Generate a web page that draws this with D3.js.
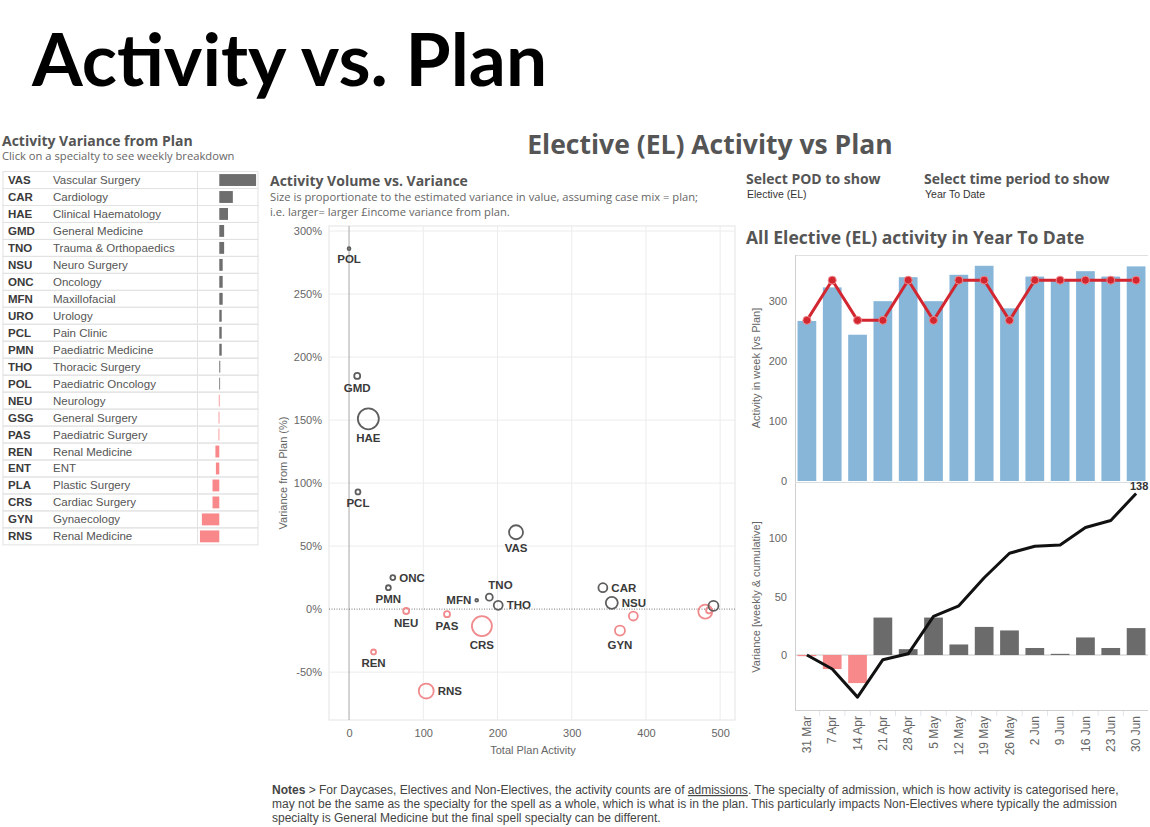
<!DOCTYPE html>
<html><head><meta charset="utf-8">
<script src="https://cdn.jsdelivr.net/npm/d3@7"></script>
<style>body{margin:0;background:#fff;} svg{display:block;}</style>
</head><body><svg id="c" width="1150" height="827"></svg>
<script>
// ---------- DATA ----------
const specCodes = ["VAS","CAR","HAE","GMD","TNO","NSU","ONC","MFN","URO","PCL","PMN","THO","POL","NEU","GSG","PAS","REN","ENT","PLA","CRS","GYN","RNS"];
const specNames = ["Vascular Surgery","Cardiology","Clinical Haematology","General Medicine","Trauma & Orthopaedics","Neuro Surgery","Oncology","Maxillofacial","Urology","Pain Clinic","Paediatric Medicine","Thoracic Surgery","Paediatric Oncology","Neurology","General Surgery","Paediatric Surgery","Renal Medicine","ENT","Plastic Surgery","Cardiac Surgery","Gynaecology","Renal Medicine"];
const specVariance = [38,14,9,5,5,3.5,3.5,3.5,2.5,2.5,2.5,1,0.5,-0.5,-0.7,-0.8,-4,-3.5,-7,-7,-18,-20];

const scatterCodes = ["POL","GMD","HAE","PCL","VAS","ONC","PMN","NEU","REN","RNS","PAS","CRS","MFN","TNO","THO","CAR","NSU","GYN","PLA","GSG","ENT","URO"];
const scatterPlan  = [0,11,26,12,225,59,53,77,33,104,132,179,172,189,201,342,354,365,383,480,485,491];
const scatterVarPct= [286,185,151,93,61,25,17,-1.5,-34,-65,-4,-13.5,7,9.5,3,17,5,-17,-5.5,-2,-1,2.5];
const scatterValue = [2,9,110,6,49,6,6,9,6,56,9,100,2,12,20,20,36,25,20,49,9,25];

const yPctTicks = [-50,0,50,100,150,200,250,300];
const xPlanTicks = [0,100,200,300,400,500];

const weeks = ["31 Mar","7 Apr","14 Apr","21 Apr","28 Apr","5 May","12 May","19 May","26 May","2 Jun","9 Jun","16 Jun","23 Jun","30 Jun"];
const weeklyActivity = [267,323,244,300,340,300,344,359,288,341,336,350,341,358];
const weeklyPlan     = [268,335,268,268,335,268,335,335,268,335,335,335,335,335];
const weeklyVariance = [-1,-12,-24,32,5,32,9,24,21,6,1,15,6,23];
const cumulativeVariance = [0,-12,-36,-4,1,33,42,66,87,93,94,109,115,138];
const activityTicks = [0,100,200,300];
const varianceTicks = [0,50,100];

// ---------- STYLE ----------
const TITLE = "'Lato','Open Sans',sans-serif";
const HEAD = "'Open Sans','Lato',sans-serif";
const BODY = "'Liberation Sans',Arial,sans-serif";
const svg = d3.select("#c");

// Main title
svg.append("text").attr("x",32).attr("y",86).attr("font-family",TITLE).attr("font-weight",700)
  .attr("font-size",73).attr("fill","#000").text("Activity vs. Plan");

// ---------- LEFT TABLE ----------
svg.append("text").attr("x",2).attr("y",146).attr("font-family",HEAD).attr("font-weight",700)
  .attr("font-size",14).attr("fill","#555").text("Activity Variance from Plan");
svg.append("text").attr("x",2).attr("y",160).attr("font-family",HEAD)
  .attr("font-size",11.2).attr("fill","#666").text("Click on a specialty to see weekly breakdown");

const rowY = d3.scaleBand().domain(specCodes).range([169,547.4]).padding(0.3);
const step = rowY.step();
const barX = d3.scaleLinear().domain([-22,40]).range([198,258]);
const tbl = svg.append("g");
specCodes.forEach((c,i)=>{
  const top = rowY(c) - (step-rowY.bandwidth())/2;
  tbl.append("rect").attr("x",3).attr("y",top).attr("width",255).attr("height",step)
    .attr("fill","none").attr("stroke","#e2e2e2").attr("stroke-width",1);
  tbl.append("line").attr("x1",197.5).attr("x2",197.5).attr("y1",top).attr("y2",top+step)
    .attr("stroke","#e2e2e2");
  tbl.append("text").attr("x",8).attr("y",top+step/2+4).attr("font-family",BODY).attr("font-weight",700)
    .attr("font-size",11.5).attr("fill","#3a3a3a").text(c);
  tbl.append("text").attr("x",53).attr("y",top+step/2+4).attr("font-family",BODY)
    .attr("font-size",11.5).attr("fill","#555").text(specNames[i]);
  const v = specVariance[i];
  tbl.append("rect").attr("x",Math.min(barX(0),barX(v))).attr("y",rowY(c))
    .attr("width",Math.max(0.8,Math.abs(barX(v)-barX(0)))).attr("height",rowY.bandwidth())
    .attr("fill", v>=0 ? "#6e6e6e" : "#f8888a");
});

// ---------- CENTER TITLE ----------
svg.append("text").attr("x",710).attr("y",154).attr("text-anchor","middle").attr("font-family",HEAD)
  .attr("font-weight",700).attr("font-size",26.5).attr("fill","#555").text("Elective (EL) Activity vs Plan");

// ---------- SCATTER ----------
svg.append("text").attr("x",270).attr("y",186).attr("font-family",HEAD).attr("font-weight",700)
  .attr("font-size",14).attr("fill","#555").text("Activity Volume vs. Variance");
svg.append("text").attr("x",270).attr("y",201).attr("font-family",HEAD)
  .attr("font-size",11.2).attr("fill","#666").text("Size is proportionate to the estimated variance in value, assuming case mix = plan;");
svg.append("text").attr("x",270).attr("y",216).attr("font-family",HEAD)
  .attr("font-size",11.2).attr("fill","#666").text("i.e. larger= larger £income variance from plan.");

const sx = d3.scaleLinear().domain([-27,520]).range([329,735]);
const sy = d3.scaleLinear().domain([-88,304]).range([720,226]);
const sr = d3.scaleSqrt().domain([0,100]).range([0,10]);
const sc = svg.append("g");
sc.append("rect").attr("x",329).attr("y",226).attr("width",406).attr("height",494)
  .attr("fill","none").attr("stroke","#e4e4e4");
sc.selectAll(".gx").data(xPlanTicks.filter(d=>d!==0)).join("line")
  .attr("x1",d=>sx(d)).attr("x2",d=>sx(d)).attr("y1",226).attr("y2",720).attr("stroke","#ececec");
sc.selectAll(".gy").data(yPctTicks.filter(d=>d!==0)).join("line")
  .attr("x1",329).attr("x2",735).attr("y1",d=>sy(d)).attr("y2",d=>sy(d)).attr("stroke","#ececec");
sc.append("line").attr("x1",sx(0)).attr("x2",sx(0)).attr("y1",226).attr("y2",720).attr("stroke","#a8a8a8");
sc.append("line").attr("x1",329).attr("x2",735).attr("y1",sy(0)).attr("y2",sy(0))
  .attr("stroke","#777").attr("stroke-dasharray","1,1.5");
const yAx = sc.append("g").attr("transform","translate(329,0)")
  .call(d3.axisLeft(sy).tickValues(yPctTicks).tickFormat(d=>d+"%").tickSize(0).tickPadding(7));
const xAx = sc.append("g").attr("transform","translate(0,720)")
  .call(d3.axisBottom(sx).tickValues(xPlanTicks).tickSize(0).tickPadding(9));
[yAx,xAx].forEach(a=>{a.select(".domain").remove();
  a.selectAll("text").attr("font-family",BODY).attr("font-size",11).attr("fill","#666");});
sc.append("text").attr("x",533).attr("y",754).attr("text-anchor","middle").attr("font-family",BODY)
  .attr("font-size",11).attr("fill","#666").text("Total Plan Activity");
sc.append("text").attr("transform","translate(287,473) rotate(-90)").attr("text-anchor","middle")
  .attr("font-family",BODY).attr("font-size",11).attr("fill","#666").text("Variance from Plan (%)");

const labelPos = {POL:"b",GMD:"b",HAE:"b",PCL:"b",VAS:"b",ONC:"r",PMN:"b",NEU:"b",REN:"b",RNS:"r",
  PAS:"b",CRS:"b",MFN:"l",TNO:"t",THO:"r",CAR:"r",NSU:"r",GYN:"b"};
const pts = scatterCodes.map((c,i)=>({c,x:scatterPlan[i],y:scatterVarPct[i],v:scatterValue[i]}));
sc.selectAll(".pt").data(pts).join("circle")
  .attr("cx",d=>sx(d.x)).attr("cy",d=>sy(d.y)).attr("r",d=>Math.max(1.2,sr(d.v)))
  .attr("fill","none").attr("stroke",d=>d.y<0?"#f08a8c":"#5e5e5e").attr("stroke-width",1.8);
pts.forEach(d=>{
  const p = labelPos[d.c]; if(!p) return;
  const r = Math.max(1.2,sr(d.v)); const cx=sx(d.x), cy=sy(d.y);
  let x=cx,y=cy,anchor="middle";
  if(p==="b"){y=cy+r+13;}
  else if(p==="r"){x=cx+r+4;y=cy+4;anchor="start";}
  else if(p==="l"){x=cx-r-4;y=cy+4;anchor="end";}
  else if(p==="t"){x=cx-1;y=cy-r-5;anchor="start";}
  sc.append("text").attr("x",x).attr("y",y).attr("text-anchor",anchor).attr("font-family",BODY)
    .attr("font-weight",700).attr("font-size",11.5).attr("fill","#3a3a3a").text(d.c);
});

// ---------- RIGHT PANEL ----------
svg.append("text").attr("x",746).attr("y",184).attr("font-family",HEAD).attr("font-weight",700)
  .attr("font-size",14).attr("fill","#555").text("Select POD to show");
svg.append("text").attr("x",747).attr("y",198).attr("font-family",BODY)
  .attr("font-size",10.5).attr("fill","#333").text("Elective (EL)");
svg.append("text").attr("x",924).attr("y",184).attr("font-family",HEAD).attr("font-weight",700)
  .attr("font-size",14).attr("fill","#555").text("Select time period to show");
svg.append("text").attr("x",925).attr("y",198).attr("font-family",BODY)
  .attr("font-size",10.5).attr("fill","#333").text("Year To Date");
svg.append("text").attr("x",746).attr("y",244).attr("font-family",HEAD).attr("font-weight",700)
  .attr("font-size",17.5).attr("fill","#555").text("All Elective (EL) activity in Year To Date");

const bx = d3.scaleBand().domain(weeks).range([795,1148]).paddingInner(0.26).paddingOuter(0.1);
const ay = d3.scaleLinear().domain([0,377]).range([481,255]);
const vy = d3.scaleLinear().domain([-47,147]).range([710,483]);
const rp = svg.append("g");
rp.append("line").attr("x1",795).attr("x2",1148).attr("y1",255.5).attr("y2",255.5).attr("stroke","#e0e0e0");
rp.append("line").attr("x1",795.5).attr("x2",795.5).attr("y1",255).attr("y2",710).attr("stroke","#cfcfcf");
rp.append("line").attr("x1",795).attr("x2",1148).attr("y1",482.5).attr("y2",482.5).attr("stroke","#d8dde2");
rp.append("line").attr("x1",795).attr("x2",1148).attr("y1",710.5).attr("y2",710.5).attr("stroke","#d0d0d0");
rp.selectAll(".ab").data(weeks).join("rect")
  .attr("x",d=>bx(d)).attr("width",bx.bandwidth())
  .attr("y",(d,i)=>ay(weeklyActivity[i])).attr("height",(d,i)=>ay(0)-ay(weeklyActivity[i]))
  .attr("fill","#88b6d8");
const planLine = d3.line().x((d,i)=>bx(weeks[i])+bx.bandwidth()/2).y(d=>ay(d));
rp.append("path").datum(weeklyPlan).attr("d",planLine).attr("fill","none")
  .attr("stroke","#d22630").attr("stroke-width",3).attr("stroke-linejoin","round");
rp.selectAll(".pm").data(weeklyPlan).join("circle")
  .attr("cx",(d,i)=>bx(weeks[i])+bx.bandwidth()/2).attr("cy",d=>ay(d)).attr("r",4)
  .attr("fill","#d22630").attr("stroke","#f08a8c").attr("stroke-width",1);
const aAx = rp.append("g").attr("transform","translate(795,0)")
  .call(d3.axisLeft(ay).tickValues(activityTicks).tickSize(0).tickPadding(8));
rp.append("line").attr("x1",795).attr("x2",1148).attr("y1",vy(0)).attr("y2",vy(0)).attr("stroke","#c8c8c8");
rp.selectAll(".vb").data(weeks).join("rect")
  .attr("x",d=>bx(d)).attr("width",bx.bandwidth())
  .attr("y",(d,i)=>Math.min(vy(0),vy(weeklyVariance[i])))
  .attr("height",(d,i)=>Math.abs(vy(weeklyVariance[i])-vy(0)))
  .attr("fill",(d,i)=>weeklyVariance[i]<0?"#f8898b":"#6b6b6b");
const cumLine = d3.line().x((d,i)=>bx(weeks[i])+bx.bandwidth()/2).y(d=>vy(d));
rp.append("path").datum(cumulativeVariance).attr("d",cumLine).attr("fill","none")
  .attr("stroke","#111").attr("stroke-width",3).attr("stroke-linejoin","round");
const last = cumulativeVariance.length-1;
rp.append("text").attr("x",bx(weeks[last])+bx.bandwidth()/2+3).attr("y",vy(cumulativeVariance[last])-4)
  .attr("text-anchor","middle").attr("font-family",BODY).attr("font-weight",700).attr("font-size",11)
  .attr("fill","#333").text(cumulativeVariance[last]);
const vAx = rp.append("g").attr("transform","translate(795,0)")
  .call(d3.axisLeft(vy).tickValues(varianceTicks).tickSize(0).tickPadding(8));
const wAx = rp.append("g").attr("transform","translate(0,710)")
  .call(d3.axisBottom(bx).tickSize(0).tickPadding(6));
[aAx,vAx,wAx].forEach(a=>{a.select(".domain").remove();
  a.selectAll("text").attr("font-family",BODY).attr("font-size",11).attr("fill","#666");});
wAx.selectAll("text").attr("transform","rotate(-90)").attr("text-anchor","end").attr("font-size",12)
  .attr("x",-6).attr("y",0).attr("dy","0.35em");
rp.selectAll(".wt").data(weeks.slice(1)).join("line")
  .attr("x1",d=>bx(d)-bx.step()*bx.paddingInner()/2).attr("x2",d=>bx(d)-bx.step()*bx.paddingInner()/2)
  .attr("y1",711).attr("y2",716).attr("stroke","#e0e6ec");
rp.append("text").attr("transform","translate(760,368) rotate(-90)").attr("text-anchor","middle")
  .attr("font-family",BODY).attr("font-size",11).attr("fill","#666").text("Activity in week [vs Plan]");
rp.append("text").attr("transform","translate(760,597) rotate(-90)").attr("text-anchor","middle")
  .attr("font-family",BODY).attr("font-size",11).attr("fill","#666").text("Variance [weekly & cumulative]");

// ---------- NOTES ----------
const NOTE = BODY;
const n1 = svg.append("text").attr("x",272).attr("y",794).attr("font-family",NOTE).attr("font-size",12).attr("fill","#444");
n1.append("tspan").attr("font-weight",700).text("Notes");
n1.append("tspan").text(" > For Daycases, Electives and Non-Electives, the activity counts are of ");
n1.append("tspan").attr("text-decoration","underline").text("admissions");
n1.append("tspan").text(".  The specialty of admission, which is how activity is categorised here,");
svg.append("text").attr("x",272).attr("y",808).attr("font-family",NOTE).attr("font-size",12).attr("fill","#444")
  .text("may not be the same as the specialty for the spell as a whole, which is what is in the plan.  This particularly impacts Non-Electives where typically the admission");
svg.append("text").attr("x",272).attr("y",822).attr("font-family",NOTE).attr("font-size",12).attr("fill","#444")
  .text("specialty is General Medicine but the final spell specialty can be different.");
</script></body></html>
